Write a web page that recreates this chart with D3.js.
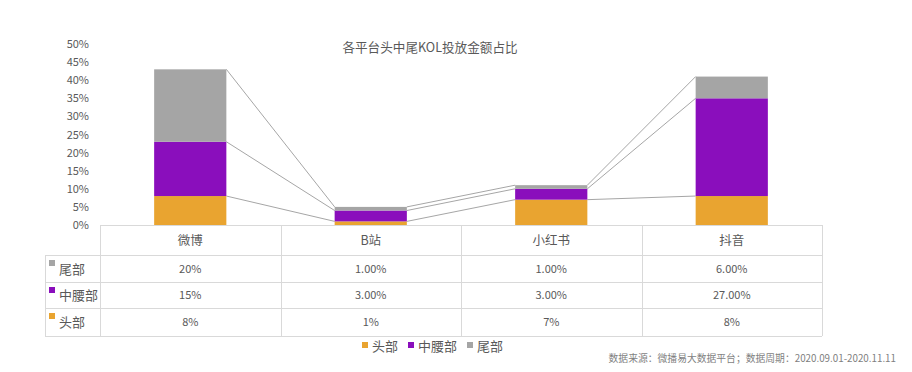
<!DOCTYPE html>
<html>
<head>
<meta charset="utf-8">
<script src="https://cdn.jsdelivr.net/npm/d3@7"></script>
<style>
  body { margin: 0; background: #fff; }
  svg { font-family: "Noto Sans CJK SC", "Noto Sans", sans-serif; }
</style>
</head>
<body>
<div id="chart"></div>
<script>
const categories = ['微博', 'B站', '小红书', '抖音'];
const seriesNames = ['头部', '中腰部', '尾部'];
const headValues = [8, 1, 7, 8];
const midValues = [15, 3, 3, 27];
const tailValues = [20, 1, 1, 6];
// table text as printed in the source
const tailLabels = ['20%', '1.00%', '1.00%', '6.00%'];
const midLabels = ['15%', '3.00%', '3.00%', '27.00%'];
const headLabels = ['8%', '1%', '7%', '8%'];
const yTicks = [0, 5, 10, 15, 20, 25, 30, 35, 40, 45, 50];

const colors = { '头部': '#E9A430', '中腰部': '#8A0EBC', '尾部': '#A5A5A5' };
const textColor = '#595959';
const gridColor = '#D9D9D9';

const W = 912, H = 372;
const svg = d3.select('#chart').append('svg').attr('width', W).attr('height', H);

const x = d3.scaleBand().domain(categories).range([100, 822]);
const y = d3.scaleLinear().domain([0, 50]).range([225, 44]);
const barW = x.bandwidth() * 0.4;

// title
svg.append('text')
  .attr('x', 430).attr('y', 52)
  .attr('text-anchor', 'middle')
  .attr('fill', textColor)
  .attr('font-size', 12.6)
  .text('各平台头中尾KOL投放金额占比');

// y axis labels
svg.selectAll('.ytick')
  .data(yTicks)
  .enter().append('text')
  .attr('x', 89)
  .attr('y', d => y(d) + 4)
  .attr('text-anchor', 'end')
  .attr('fill', textColor)
  .attr('font-size', 11)
  .text(d => d + '%');

// stacked data
const rows = categories.map((c, i) => ({ cat: c, '头部': headValues[i], '中腰部': midValues[i], '尾部': tailValues[i] }));
const stacked = d3.stack().keys(seriesNames)(rows);

// series lines between bars
stacked.forEach(layer => {
  for (let i = 0; i < layer.length - 1; i++) {
    const a = layer[i], b = layer[i + 1];
    svg.append('line')
      .attr('x1', x(a.data.cat) + x.bandwidth() / 2 + barW / 2)
      .attr('y1', y(a[1]))
      .attr('x2', x(b.data.cat) + x.bandwidth() / 2 - barW / 2)
      .attr('y2', y(b[1]))
      .attr('stroke', '#A6A6A6')
      .attr('stroke-width', 1);
  }
});

// bars
svg.selectAll('.layer')
  .data(stacked)
  .enter().append('g')
  .attr('fill', d => colors[d.key])
  .selectAll('rect')
  .data(d => d)
  .enter().append('rect')
  .attr('x', d => x(d.data.cat) + x.bandwidth() / 2 - barW / 2)
  .attr('y', d => y(d[1]))
  .attr('width', barW)
  .attr('height', d => y(d[0]) - y(d[1]));

// data table
const rowEdges = [225, 255, 282, 308, 336];
const tableRows = [
  { name: '尾部', labels: tailLabels },
  { name: '中腰部', labels: midLabels },
  { name: '头部', labels: headLabels }
];
const tbl = svg.append('g').attr('stroke', gridColor).attr('stroke-width', 1);
// horizontal lines
rowEdges.forEach((ry, i) => {
  tbl.append('line')
    .attr('x1', i === 0 ? 100 : 45).attr('x2', 822)
    .attr('y1', ry + 0.5).attr('y2', ry + 0.5);
});
// vertical lines
tbl.append('line').attr('x1', 45.5).attr('x2', 45.5).attr('y1', rowEdges[1]).attr('y2', rowEdges[4]);
categories.forEach(c => {
  tbl.append('line').attr('x1', Math.round(x(c)) + 0.5).attr('x2', Math.round(x(c)) + 0.5)
    .attr('y1', rowEdges[0]).attr('y2', rowEdges[4]);
});
tbl.append('line').attr('x1', 822.5).attr('x2', 822.5).attr('y1', rowEdges[0]).attr('y2', rowEdges[4]);

// header row
svg.selectAll('.cat')
  .data(categories)
  .enter().append('text')
  .attr('x', d => x(d) + x.bandwidth() / 2)
  .attr('y', (rowEdges[0] + rowEdges[1]) / 2 + 4.5)
  .attr('text-anchor', 'middle')
  .attr('fill', textColor)
  .attr('font-size', 12.5)
  .text(d => d);

tableRows.forEach((r, ri) => {
  const top = rowEdges[ri + 1], bot = rowEdges[ri + 2];
  const mid = (top + bot) / 2;
  svg.append('rect')
    .attr('x', 49).attr('y', top + 5)
    .attr('width', 6).attr('height', 6)
    .attr('fill', colors[r.name]);
  svg.append('text')
    .attr('x', 59).attr('y', mid + 5)
    .attr('fill', textColor)
    .attr('font-size', 13)
    .text(r.name);
  categories.forEach((c, ci) => {
    svg.append('text')
      .attr('x', x(c) + x.bandwidth() / 2)
      .attr('y', mid + 4)
      .attr('text-anchor', 'middle')
      .attr('fill', textColor)
      .attr('font-size', 11)
      .text(r.labels[ci]);
  });
});

// legend
const legendX = [362, 408, 467];
seriesNames.forEach((s, i) => {
  svg.append('rect')
    .attr('x', legendX[i]).attr('y', 342)
    .attr('width', 6).attr('height', 6)
    .attr('fill', colors[s]);
  svg.append('text')
    .attr('x', legendX[i] + 10).attr('y', 351)
    .attr('fill', textColor)
    .attr('font-size', 13)
    .text(s);
});

// source note
svg.append('text')
  .attr('x', 896).attr('y', 362)
  .attr('text-anchor', 'end')
  .attr('fill', '#7F7F7F')
  .attr('font-size', 9.8)
  .text('数据来源：微播易大数据平台；数据周期：2020.09.01-2020.11.11');
</script>
</body>
</html>
